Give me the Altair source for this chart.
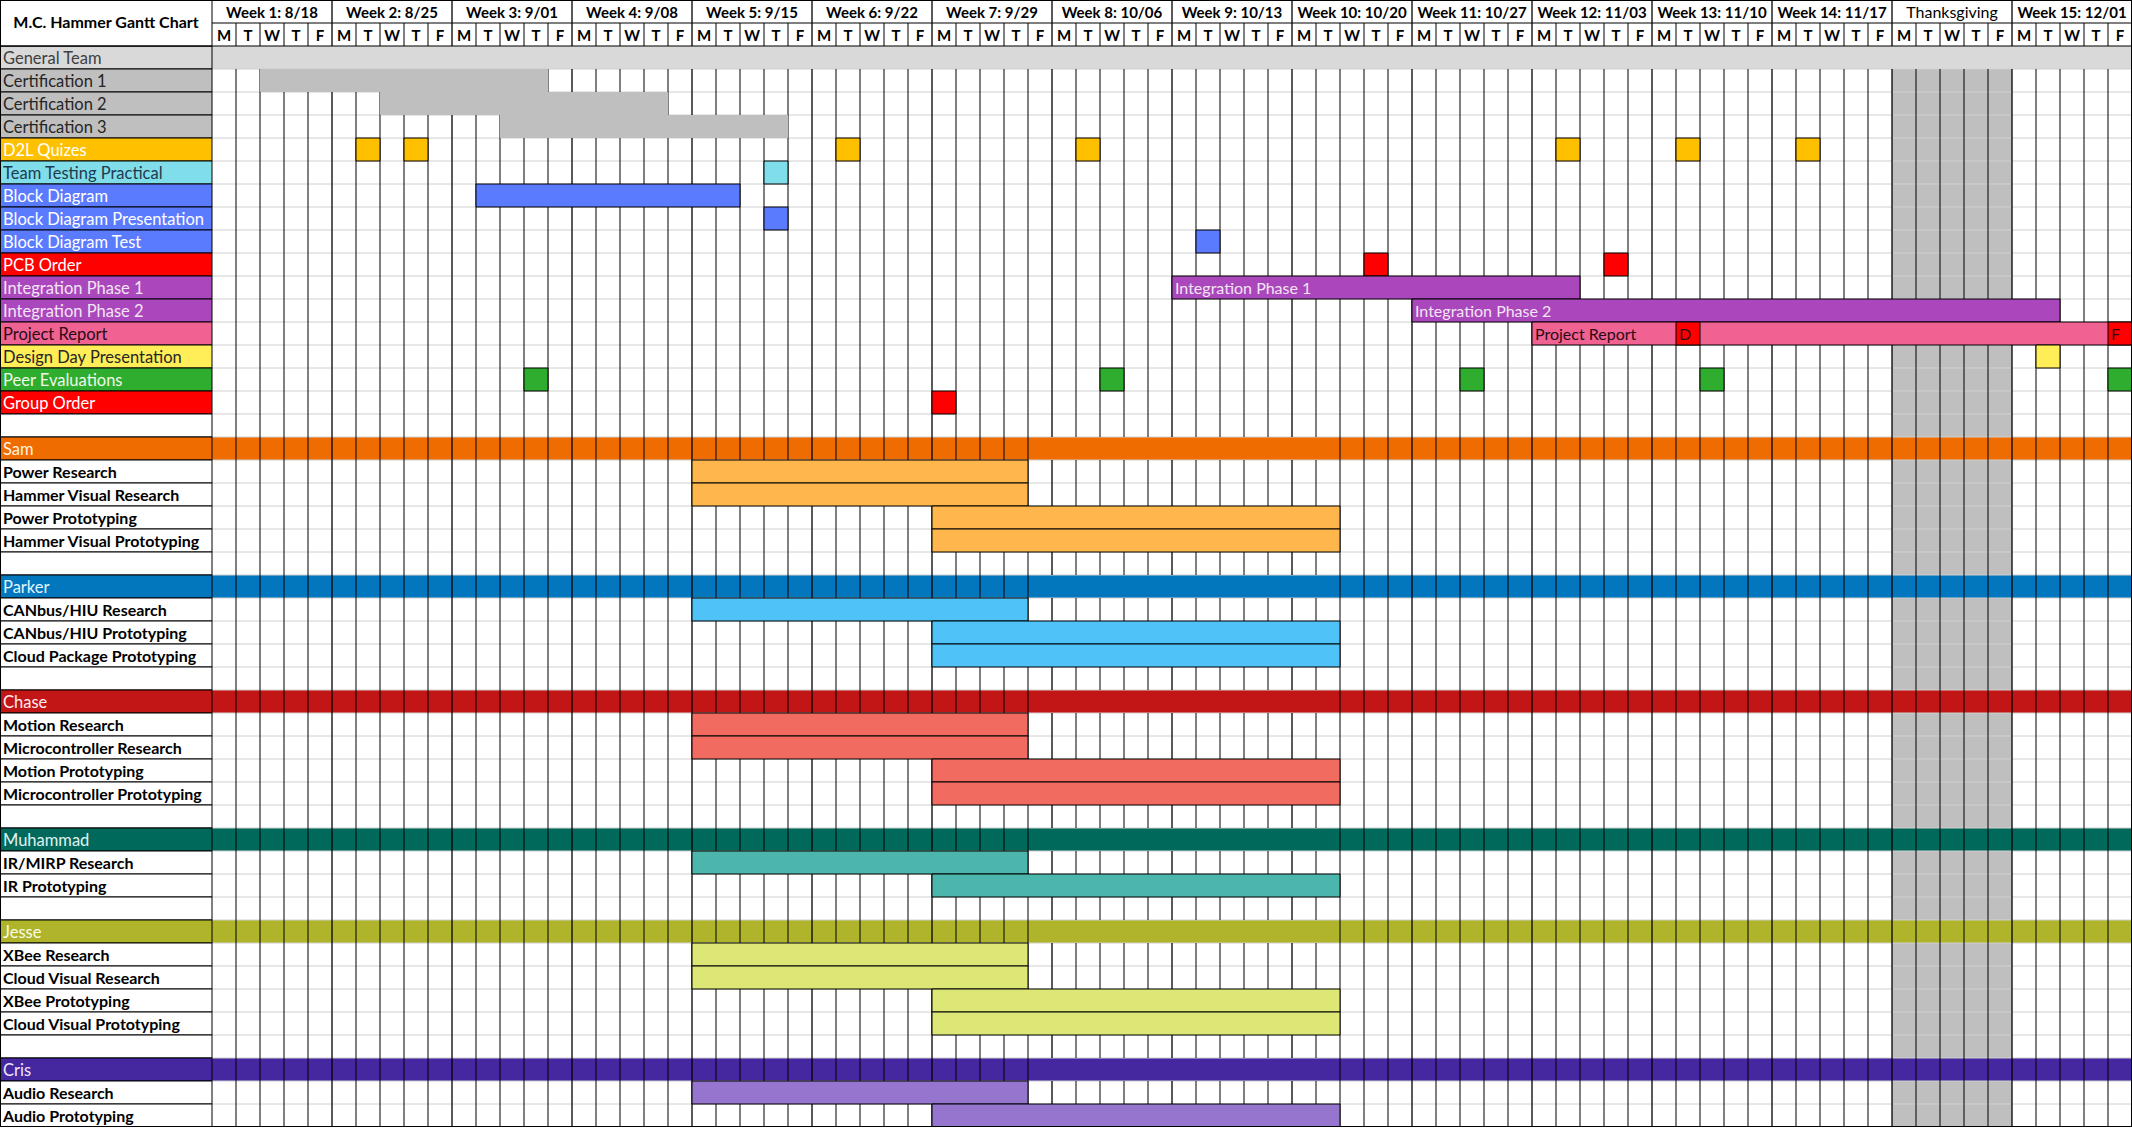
import altair as alt
import pandas as pd

# ---------------- data ----------------
weeks = ["Week 1: 8/18", "Week 2: 8/25", "Week 3: 9/01", "Week 4: 9/08", "Week 5: 9/15",
         "Week 6: 9/22", "Week 7: 9/29", "Week 8: 10/06", "Week 9: 10/13", "Week 10: 10/20",
         "Week 11: 10/27", "Week 12: 11/03", "Week 13: 11/10", "Week 14: 11/17",
         "Thanksgiving", "Week 15: 12/01"]
day_letters = ["M", "T", "W", "T", "F"]
chart_title = "M.C. Hammer Gantt Chart"
holiday_week = "Thanksgiving"

row_labels = ["General Team", "Certification 1", "Certification 2", "Certification 3", "D2L Quizes",
              "Team Testing Practical", "Block Diagram", "Block Diagram Presentation", "Block Diagram Test",
              "PCB Order", "Integration Phase 1", "Integration Phase 2", "Project Report",
              "Design Day Presentation", "Peer Evaluations", "Group Order", "",
              "Sam", "Power Research", "Hammer Visual Research", "Power Prototyping",
              "Hammer Visual Prototyping", "",
              "Parker", "CANbus/HIU Research", "CANbus/HIU Prototyping", "Cloud Package Prototyping", "",
              "Chase", "Motion Research", "Microcontroller Research", "Motion Prototyping",
              "Microcontroller Prototyping", "",
              "Muhammad", "IR/MIRP Research", "IR Prototyping", "",
              "Jesse", "XBee Research", "Cloud Visual Research", "XBee Prototyping",
              "Cloud Visual Prototyping", "",
              "Cris", "Audio Research", "Audio Prototyping"]

row_fill = ["#D9D9D9", "#BFBFBF", "#BFBFBF", "#BFBFBF", "#FFC000",
            "#80DEEA", "#5B7BFF", "#5B7BFF", "#5B7BFF",
            "#FF0000", "#AB47BC", "#AB47BC", "#F06292",
            "#FFEE58", "#2EAD2E", "#FF0000", "#FFFFFF",
            "#EF6C00", "#FFFFFF", "#FFFFFF", "#FFFFFF", "#FFFFFF", "#FFFFFF",
            "#0277BD", "#FFFFFF", "#FFFFFF", "#FFFFFF", "#FFFFFF",
            "#C21515", "#FFFFFF", "#FFFFFF", "#FFFFFF", "#FFFFFF", "#FFFFFF",
            "#00695C", "#FFFFFF", "#FFFFFF", "#FFFFFF",
            "#AFB42B", "#FFFFFF", "#FFFFFF", "#FFFFFF", "#FFFFFF", "#FFFFFF",
            "#4527A0", "#FFFFFF", "#FFFFFF"]

row_text_color = ["#404040", "#262626", "#262626", "#262626", "#FFFFFF",
                  "#1F3A4D", "#FFFFFF", "#FFFFFF", "#FFFFFF",
                  "#FFFFFF", "#F3E5F5", "#F3E5F5", "#2B0A16",
                  "#262626", "#F1F8E9", "#FFFFFF", "#000000",
                  "#FFF3E0", "#000000", "#000000", "#000000", "#000000", "#000000",
                  "#E1F5FE", "#000000", "#000000", "#000000", "#000000",
                  "#FFEBEE", "#000000", "#000000", "#000000", "#000000", "#000000",
                  "#E0F2F1", "#000000", "#000000", "#000000",
                  "#F9FBE7", "#000000", "#000000", "#000000", "#000000", "#000000",
                  "#EDE7F6", "#000000", "#000000"]

# rows whose colour runs across the whole timeline
band_rows = ["General Team", "Sam", "Parker", "Chase", "Muhammad", "Jesse", "Cris"]
# rows whose label is set in bold
bold_rows = ["Power Research", "Hammer Visual Research", "Power Prototyping", "Hammer Visual Prototyping",
             "CANbus/HIU Research", "CANbus/HIU Prototyping", "Cloud Package Prototyping",
             "Motion Research", "Microcontroller Research", "Motion Prototyping",
             "Microcontroller Prototyping", "IR/MIRP Research", "IR Prototyping",
             "XBee Research", "Cloud Visual Research", "XBee Prototyping", "Cloud Visual Prototyping",
             "Audio Research", "Audio Prototyping"]

# bars: task, first day index, end day index (exclusive), colour, outlined, text, text colour
bar_task = ["Certification 1", "Certification 2", "Certification 3",
            "D2L Quizes", "D2L Quizes", "D2L Quizes", "D2L Quizes", "D2L Quizes", "D2L Quizes", "D2L Quizes",
            "Team Testing Practical", "Block Diagram", "Block Diagram Presentation", "Block Diagram Test",
            "PCB Order", "PCB Order", "Integration Phase 1", "Integration Phase 2",
            "Project Report", "Project Report", "Project Report", "Design Day Presentation",
            "Peer Evaluations", "Peer Evaluations", "Peer Evaluations", "Peer Evaluations", "Peer Evaluations",
            "Group Order",
            "Power Research", "Hammer Visual Research", "Power Prototyping", "Hammer Visual Prototyping",
            "CANbus/HIU Research", "CANbus/HIU Prototyping", "Cloud Package Prototyping",
            "Motion Research", "Microcontroller Research", "Motion Prototyping", "Microcontroller Prototyping",
            "IR/MIRP Research", "IR Prototyping",
            "XBee Research", "Cloud Visual Research", "XBee Prototyping", "Cloud Visual Prototyping",
            "Audio Research", "Audio Prototyping"]
bar_start = [2, 7, 12,
             6, 8, 26, 36, 56, 61, 66,
             23, 11, 23, 41,
             48, 58, 40, 50,
             55, 61, 79, 76,
             13, 37, 52, 62, 79,
             30,
             20, 20, 30, 30,
             20, 30, 30,
             20, 20, 30, 30,
             20, 30,
             20, 20, 30, 30,
             20, 30]
bar_end = [14, 19, 24,
           7, 9, 27, 37, 57, 62, 67,
           24, 22, 24, 42,
           49, 59, 57, 77,
           80, 62, 80, 77,
           14, 38, 53, 63, 80,
           31,
           34, 34, 47, 47,
           34, 47, 47,
           34, 34, 47, 47,
           34, 47,
           34, 34, 47, 47,
           34, 47]
bar_color = ["#BFBFBF", "#BFBFBF", "#BFBFBF",
             "#FFC000", "#FFC000", "#FFC000", "#FFC000", "#FFC000", "#FFC000", "#FFC000",
             "#80DEEA", "#5B7BFF", "#5B7BFF", "#5B7BFF",
             "#FF0000", "#FF0000", "#AB47BC", "#AB47BC",
             "#F06292", "#FF0000", "#FF0000", "#FFEE58",
             "#2EAD2E", "#2EAD2E", "#2EAD2E", "#2EAD2E", "#2EAD2E",
             "#FF0000",
             "#FFB74D", "#FFB74D", "#FFB74D", "#FFB74D",
             "#4FC3F7", "#4FC3F7", "#4FC3F7",
             "#F26B60", "#F26B60", "#F26B60", "#F26B60",
             "#4DB6AC", "#4DB6AC",
             "#DCE775", "#DCE775", "#DCE775", "#DCE775",
             "#9575CD", "#9575CD"]
bar_outlined = [False, False, False] + [True] * 44
bar_text = [""] * 16 + ["Integration Phase 1", "Integration Phase 2", "Project Report", "D", "F"] + [""] * 26
bar_text_color = ["#000000"] * 16 + ["#F3E5F5", "#F3E5F5", "#2B0A16", "#2B0A16", "#2B0A16"] + ["#000000"] * 26

# ---------------- layout ----------------
FONT = "Lato, Open Sans, sans-serif"
FS_LABEL = 16.5
FS_BOLD = 16
FS_HEAD = 15
FS_BAR = 16
W, H = 2132, 1127
N_DAYS = len(weeks) * len(day_letters)
HEAD = 2
N_ROWS = HEAD + len(row_labels)
LABEL_UNITS = 212 / 24.0

xs = alt.Scale(domain=[-LABEL_UNITS, N_DAYS], nice=False, zero=False)
ys = alt.Scale(domain=[0, N_ROWS], nice=False, zero=False, reverse=True)


def X(f):
    return alt.X(f, type="quantitative", scale=xs, axis=None)


def Y(f):
    return alt.Y(f, type="quantitative", scale=ys, axis=None)


row_of = {}
for i, lab in enumerate(row_labels):
    if lab:
        row_of[lab] = HEAD + i

layers = []

# holiday shading
hw = weeks.index(holiday_week) * 5
hol = pd.DataFrame({"x": [hw], "x2": [hw + 5], "y": [HEAD + 1], "y2": [N_ROWS]})
layers.append(alt.Chart(hol).mark_rect(color="#BFBFBF").encode(
    x=X("x"), x2="x2", y=Y("y"), y2="y2"))

# full-width band rows
band_y = [row_of[b] for b in band_rows]
bands = pd.DataFrame({"y": band_y, "c": [row_fill[row_labels.index(b)] for b in band_rows]})
bands["y2"] = bands["y"] + 1
bands["x"] = 0
bands["x2"] = N_DAYS
layers.append(alt.Chart(bands).mark_rect().encode(
    x=X("x"), x2="x2", y=Y("y"), y2="y2", color=alt.Color("c:N", scale=None)))

# horizontal light gridlines
hg = pd.DataFrame({"y": list(range(HEAD + 1, N_ROWS))})
hg["x"] = 0
hg["x2"] = N_DAYS
layers.append(alt.Chart(hg).mark_rule(color="#D0D0D0", strokeWidth=1).encode(
    x=X("x"), x2="x2", y=Y("y")))

# vertical day/week lines (white rows everywhere; person band rows only outside cols 34-47)
person_y = set(band_y[1:])
vx, vy, vy2, vw = [], [], [], []
for c in range(1, N_DAYS):
    wk = (c % 5 == 0)
    w = 1.3 if wk else 1.0
    vx.append(c); vy.append(0 if wk else 1); vy2.append(HEAD); vw.append(w)
    skip_band = 34 < c < 47
    start = HEAD + 1
    for r in range(HEAD + 1, N_ROWS + 1):
        brk = (r == N_ROWS) or (skip_band and r in person_y)
        if brk:
            if r > start:
                vx.append(c); vy.append(start); vy2.append(r); vw.append(w)
            start = r + 1
vl = pd.DataFrame({"x": vx, "y": vy, "y2": vy2, "w": vw})
layers.append(alt.Chart(vl).mark_rule(color="#000000").encode(
    x=X("x"), y=Y("y"), y2="y2", strokeWidth=alt.StrokeWidth("w:Q", scale=None)))

# bars
bars = pd.DataFrame({"task": bar_task, "x": bar_start, "x2": bar_end, "c": bar_color,
                     "o": bar_outlined, "t": bar_text, "tc": bar_text_color})
bars["y"] = bars["task"].map(row_of)
bars["y2"] = bars["y"] + 1
bars["ym"] = bars["y"] + 0.5
layers.append(alt.Chart(bars[~bars["o"]]).mark_rect().encode(
    x=X("x"), x2="x2", y=Y("y"), y2="y2", color=alt.Color("c:N", scale=None)))
layers.append(alt.Chart(bars[bars["o"]]).mark_rect(stroke="#000000", strokeWidth=1).encode(
    x=X("x"), x2="x2", y=Y("y"), y2="y2", color=alt.Color("c:N", scale=None)))
bt = bars[bars["t"] != ""]
layers.append(alt.Chart(bt).mark_text(align="left", baseline="middle", dx=3, dy=1, font=FONT,
                                      fontSize=FS_BAR).encode(
    x=X("x"), y=Y("ym"), text="t:N", color=alt.Color("tc:N", scale=None)))

# label column
lab = pd.DataFrame({"name": row_labels, "c": row_fill, "tc": row_text_color})
lab["y"] = [HEAD + i for i in range(len(row_labels))]
lab["y2"] = lab["y"] + 1
lab["ym"] = lab["y"] + 0.5
lab["x"] = -LABEL_UNITS
lab["x2"] = 0
lab["bold"] = lab["name"].isin(bold_rows)
layers.append(alt.Chart(lab).mark_rect(stroke="#000000", strokeWidth=1).encode(
    x=X("x"), x2="x2", y=Y("y"), y2="y2", color=alt.Color("c:N", scale=None)))
layers.append(alt.Chart(lab[~lab["bold"]]).mark_text(align="left", baseline="middle", dx=3, dy=1,
                                                    font=FONT, fontSize=FS_LABEL).encode(
    x=X("x"), y=Y("ym"), text="name:N", color=alt.Color("tc:N", scale=None)))
layers.append(alt.Chart(lab[lab["bold"]]).mark_text(align="left", baseline="middle", dx=3, dy=1,
                                                   font=FONT, fontSize=FS_BOLD, fontWeight="bold").encode(
    x=X("x"), y=Y("ym"), text="name:N", color=alt.Color("tc:N", scale=None)))

# title cell
tdf = pd.DataFrame({"x": [-LABEL_UNITS], "x2": [0], "y": [0], "y2": [HEAD], "xm": [-LABEL_UNITS / 2],
                    "ym": [HEAD / 2], "t": [chart_title]})
layers.append(alt.Chart(tdf).mark_rect(color="#FFFFFF", stroke="#000000", strokeWidth=1).encode(
    x=X("x"), x2="x2", y=Y("y"), y2="y2"))
layers.append(alt.Chart(tdf).mark_text(align="center", baseline="middle", font=FONT, fontSize=16,
                                       fontWeight="bold", color="#000000").encode(
    x=X("xm"), y=Y("ym"), text="t:N"))

# header horizontal lines
hh = pd.DataFrame({"y": [1, HEAD], "x": [0, -LABEL_UNITS], "x2": [N_DAYS, N_DAYS]})
layers.append(alt.Chart(hh).mark_rule(color="#000000", strokeWidth=1.2).encode(
    x=X("x"), x2="x2", y=Y("y")))

# week and day header texts
wdf = pd.DataFrame({"t": weeks, "x": [i * 5 + 2.5 for i in range(len(weeks))], "y": 0.5})
wdf["bold"] = wdf["t"] != holiday_week
layers.append(alt.Chart(wdf[wdf["bold"]]).mark_text(align="center", baseline="middle", dy=1, font=FONT,
                                                    fontSize=FS_HEAD, fontWeight="bold",
                                                    color="#000000").encode(
    x=X("x"), y=Y("y"), text="t:N"))
layers.append(alt.Chart(wdf[~wdf["bold"]]).mark_text(align="center", baseline="middle", dy=1, font=FONT,
                                                     fontSize=FS_HEAD + 1, color="#000000").encode(
    x=X("x"), y=Y("y"), text="t:N"))
ddf = pd.DataFrame({"t": day_letters * len(weeks), "x": [c + 0.5 for c in range(N_DAYS)], "y": 1.5})
layers.append(alt.Chart(ddf).mark_text(align="center", baseline="middle", dy=1, font=FONT,
                                       fontSize=FS_HEAD, fontWeight="bold", color="#000000").encode(
    x=X("x"), y=Y("y"), text="t:N"))

# outer frame
fr = pd.DataFrame({"x": [-LABEL_UNITS], "x2": [N_DAYS], "y": [0], "y2": [N_ROWS]})
layers.append(alt.Chart(fr).mark_rect(fillOpacity=0, stroke="#000000", strokeWidth=2).encode(
    x=X("x"), x2="x2", y=Y("y"), y2="y2"))

chart = alt.layer(*layers).properties(
    width=W, height=H, autosize=alt.AutoSizeParams(type="none"), padding=0
).configure_view(stroke=None).configure(background="#FFFFFF")

chart.save("out.html", embed_options={"renderer": "svg", "actions": False})
